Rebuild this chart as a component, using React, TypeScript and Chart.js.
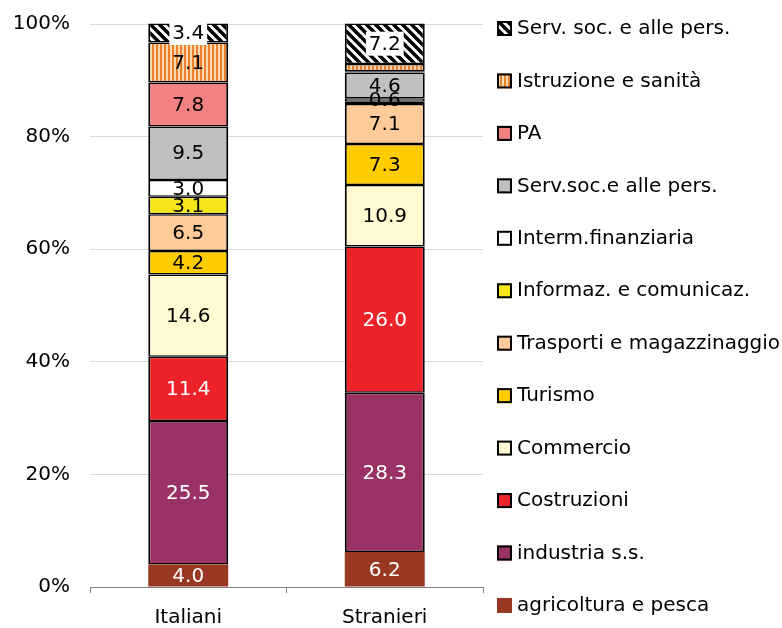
import React, { useEffect, useRef } from 'react';
import { Chart, registerables } from 'chart.js';

Chart.register(...registerables);

const categories = ['Italiani', 'Stranieri'];

const seriesNames = [
  'agricoltura e pesca',
  'industria s.s.',
  'Costruzioni',
  'Commercio',
  'Turismo',
  'Trasporti e magazzinaggio',
  'Informaz. e comunicaz.',
  'Interm.finanziaria',
  'Serv.soc.e alle pers.',
  'PA',
  'Istruzione e sanità',
  'Serv. soc. e alle pers.',
];

const italiani = [4.0, 25.5, 11.4, 14.6, 4.2, 6.5, 3.1, 3.0, 9.5, 7.8, 7.1, 3.4];
const stranieri = [6.2, 28.3, 26.0, 10.9, 7.3, 7.1, 0.4, 0.6, 4.6, 0.2, 1.3, 7.2];

// labels not printed (series index, category index)
const hiddenLabels = [
  [6, 1],
  [9, 1],
  [10, 1],
];

const seriesColors = [
  '#993822',
  '#993366',
  '#ee2229',
  '#fffad2',
  '#ffcc00',
  '#ffcc99',
  '#f5e61a',
  '#ffffff',
  '#c0c0c0',
  '#f38181',
  'pattern:vstripes',
  'pattern:diag',
];

const whiteLabelSeries = [0, 1, 2];
const boxedLabelSeries = [11];

const yTicks = [0, 20, 40, 60, 80, 100];

const FONT = "'DejaVu Sans', Verdana, sans-serif";

function makePattern(kind: string): CanvasPattern | string {
  const c = document.createElement('canvas');
  if (kind === 'vstripes') {
    c.width = 4;
    c.height = 4;
    const g = c.getContext('2d')!;
    g.fillStyle = '#fdd8aa';
    g.fillRect(0, 0, 4, 4);
    g.fillStyle = '#e8812f';
    g.fillRect(0, 0, 2, 4);
  } else {
    c.width = 9;
    c.height = 9;
    const g = c.getContext('2d')!;
    g.fillStyle = '#ffffff';
    g.fillRect(0, 0, 9, 9);
    g.strokeStyle = '#000000';
    g.lineWidth = 3.5;
    g.beginPath();
    for (let k = -2; k <= 2; k++) {
      g.moveTo(k * 9 - 2, -2);
      g.lineTo(k * 9 + 11, 11);
    }
    g.stroke();
  }
  const p = c.getContext('2d')!.createPattern(c, 'repeat');
  return p || '#000';
}

export default function App() {
  const ref = useRef<HTMLCanvasElement | null>(null);

  useEffect(() => {
    document.body.style.margin = '0';
    const canvas = ref.current;
    if (!canvas) return;

    const fills = seriesColors.map((c) =>
      c.startsWith('pattern:') ? makePattern(c.slice(8)) : c
    );

    const datasets = seriesNames.map((name, i) => ({
      label: name,
      data: [italiani[i], stranieri[i]],
      backgroundColor: fills[i] as any,
      borderColor: '#000000',
      borderWidth: i === 0 ? 0 : ({ top: 1.5, bottom: 1.5, left: 2, right: 2 } as any),
      borderSkipped: false as any,
      barPercentage: 0.407,
      categoryPercentage: 1,
      clip: false as any,
    }));

    const labelPlugin = {
      id: 'valueLabels',
      afterDatasetsDraw(chart: any) {
        const ctx = chart.ctx;
        ctx.save();
        ctx.font = `20px ${FONT}`;
        ctx.textAlign = 'center';
        ctx.textBaseline = 'middle';
        chart.data.datasets.forEach((ds: any, di: number) => {
          const meta = chart.getDatasetMeta(di);
          meta.data.forEach((el: any, ci: number) => {
            if (hiddenLabels.some((h) => h[0] === di && h[1] === ci)) return;
            const v = ds.data[ci];
            const text = v.toFixed(1);
            const x = el.x;
            const y = (el.y + el.base) / 2;
            if (boxedLabelSeries.includes(di)) {
              const w = ctx.measureText(text).width + 6;
              ctx.fillStyle = '#ffffff';
              ctx.fillRect(x - w / 2, y - 12, w, 24);
            }
            ctx.fillStyle = whiteLabelSeries.includes(di) ? '#ffffff' : '#000000';
            ctx.fillText(text, x, y + 1);
          });
        });
        ctx.restore();
      },
    };

    const legendPlugin = {
      id: 'sideLegend',
      afterDraw(chart: any) {
        const ctx = chart.ctx;
        const area = chart.chartArea;
        const x0 = area.right + 14;
        const top = 28;
        const step = 52.45;
        ctx.save();
        ctx.font = `20px ${FONT}`;
        ctx.textAlign = 'left';
        ctx.textBaseline = 'middle';
        const n = seriesNames.length;
        for (let k = 0; k < n; k++) {
          const i = n - 1 - k;
          const cy = top + k * step;
          ctx.fillStyle = fills[i] as any;
          ctx.fillRect(x0, cy - 7, 15, 15);
          if (i !== 0) {
            ctx.strokeStyle = '#000';
            ctx.lineWidth = 2;
            ctx.strokeRect(x0 + 1, cy - 6, 13, 13);
          }
          ctx.fillStyle = '#000';
          ctx.fillText(seriesNames[i], x0 + 20, cy + 1);
        }
        ctx.restore();
      },
    };

    const chart = new Chart(canvas, {
      type: 'bar',
      data: { labels: categories, datasets },
      options: {
        animation: false,
        responsive: false,
        maintainAspectRatio: false,
        layout: { padding: { top: 24, right: 299, left: 0, bottom: 0 } },
        plugins: {
          legend: { display: false },
          tooltip: { enabled: false },
        },
        scales: {
          x: {
            stacked: true,
            grid: {
              display: true,
              drawOnChartArea: false,
              drawTicks: true,
              tickLength: 6,
              color: '#808080',
              offset: true,
            },
            border: { display: true, color: '#808080', width: 1 },
            ticks: {
              font: { family: FONT, size: 20 },
              color: '#000',
              padding: 13,
            },
            afterFit: (s: any) => {
              s.height = 41;
              s.paddingLeft = 0;
              s.paddingRight = 0;
            },
          },
          y: {
            stacked: true,
            min: 0,
            max: 100,
            afterBuildTicks: (s: any) => {
              s.ticks = yTicks.map((v) => ({ value: v }));
            },
            grid: {
              color: '#d9d9d9',
              drawTicks: false,
            },
            border: { display: false },
            ticks: {
              font: { family: FONT, size: 20 },
              color: '#000',
              padding: 20,
              callback: (v: any) => `${v}%`,
            },
            afterFit: (s: any) => {
              s.width = 90;
              s.paddingTop = 0;
              s.paddingBottom = 0;
            },
          },
        },
      },
      plugins: [labelPlugin, legendPlugin],
    });

    return () => chart.destroy();
  }, []);

  return (
    <div style={{ position: 'relative', width: 782, height: 628 }}>
      <canvas ref={ref} width={782} height={628} style={{ display: 'block' }} />
    </div>
  );
}
